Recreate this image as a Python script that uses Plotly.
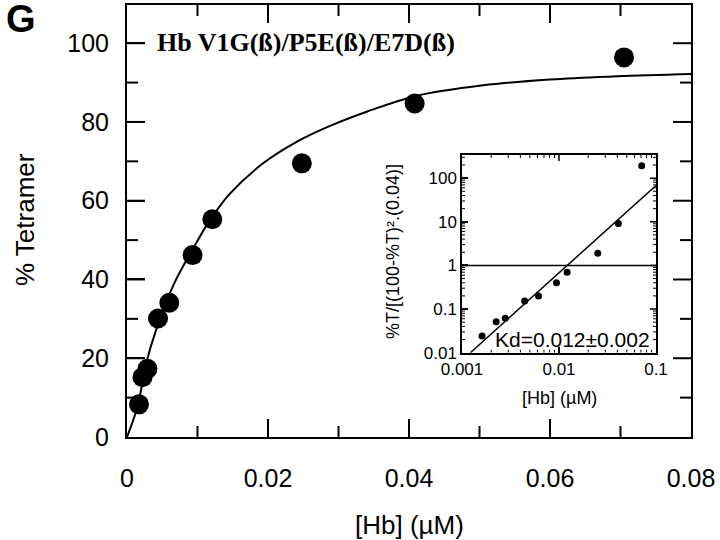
import math
import plotly.graph_objects as go

# ---- main panel data ----
hb_conc = [0.0017, 0.0022, 0.0029, 0.0044, 0.0060, 0.0093, 0.0121, 0.0248, 0.0408, 0.0705]
pct_tetramer = [8.3, 15.2, 17.3, 30.1, 34.1, 46.2, 55.3, 69.5, 84.7, 96.4]

# fitted curve, read at points along the drawn line
fit_x = [0, 0.0015, 0.0027, 0.0042, 0.0067, 0.0093, 0.0115, 0.0145, 0.0193, 0.0240,
         0.0288, 0.0340, 0.0410, 0.0505, 0.0600, 0.0695, 0.0800]
fit_y = [0, 7.8, 18.6, 27.6, 39.0, 47.6, 54.3, 61.6, 69.5, 74.9,
         79.0, 82.6, 86.6, 89.3, 90.8, 91.6, 92.2]

# ---- inset data (log-log) ----
inset_x = [0.00161, 0.00225, 0.00279, 0.00442, 0.00615, 0.00942, 0.01213, 0.0251, 0.0409, 0.0712]
inset_y = [0.024, 0.0514, 0.0613, 0.153, 0.20, 0.403, 0.695, 1.9, 9.1, 191]
inset_fit_x = [0.00122, 0.1]
inset_fit_y = [0.01, 68]
ref_x = [0.001, 0.1]
ref_y = [1, 1]

x_ticks = [0, 0.02, 0.04, 0.06, 0.08]
x_ticktext = ["0", "0.02", "0.04", "0.06", "0.08"]
x_minor = [0.01, 0.03, 0.05, 0.07]
y_ticks = [0, 20, 40, 60, 80, 100]
y_minor = [10, 30, 50, 70, 90]
inset_xticks = [0.001, 0.01, 0.1]
inset_xtext = ["0.001", "0.01", "0.1"]
inset_yticks = [0.01, 0.1, 1, 10, 100]
inset_ytext = ["0.01", "0.1", "1", "10", "100"]
inset_xminor = [m * 10 ** e for e in (-3, -2) for m in range(2, 10)]
inset_yminor = [m * 10 ** e for e in (-2, -1, 0, 1, 2) for m in range(2, 10) if m * 10 ** e < 330]

L, R, T, B = 127, 29, 5, 103
W, H = 720, 540
PW, PH = W - L - R, H - T - B
X_RANGE = [0, 0.08]
Y_RANGE = [0, 109.7]
IN_X0, IN_X1, IN_Y0, IN_Y1 = 462, 656, 352.7, 155
IN_XR = [-3, -1]
IN_YR = [-2, 2.53]
in_w, in_h = IN_X1 - IN_X0, IN_Y0 - IN_Y1


def px(xp):
    return (xp - L) / PW


def py(yp):
    return (H - B - yp) / PH


SANS = "Liberation Sans, Arial, Helvetica, sans-serif"

fig = go.Figure()
fig.add_trace(go.Scatter(x=fit_x, y=fit_y, mode="lines", line=dict(color="black", width=2, shape="spline", smoothing=1.0),
                         xaxis="x", yaxis="y", showlegend=False, hoverinfo="skip"))
fig.add_trace(go.Scatter(x=hb_conc, y=pct_tetramer, mode="markers", marker=dict(color="black", size=20),
                         xaxis="x", yaxis="y", showlegend=False))
fig.add_trace(go.Scatter(x=ref_x, y=ref_y, mode="lines", line=dict(color="black", width=1.5),
                         xaxis="x2", yaxis="y2", showlegend=False))
fig.add_trace(go.Scatter(x=inset_fit_x, y=inset_fit_y, mode="lines", line=dict(color="black", width=1.5),
                         xaxis="x2", yaxis="y2", showlegend=False))
fig.add_trace(go.Scatter(x=inset_x, y=inset_y, mode="markers", marker=dict(color="black", size=7),
                         xaxis="x2", yaxis="y2", showlegend=False))


# ---- tick marks on all four sides, drawn as line segments from the tick arrays ----
def tick_trace(xa, ya, xvals, yvals, xr, yr, len_px_x, len_px_y, w_px, h_px, log=False, width=2):
    tx, ty = [], []
    conv = (lambda v: math.log10(v)) if log else (lambda v: v)
    inv = (lambda v: 10 ** v) if log else (lambda v: v)
    dy = (yr[1] - yr[0]) * len_px_x / h_px   # vertical tick length (for x ticks), data units
    dx = (xr[1] - xr[0]) * len_px_y / w_px   # horizontal tick length (for y ticks)
    for v in xvals:
        tx += [v, v, None, v, v, None]
        ty += [inv(yr[0]), inv(yr[0] + dy), None, inv(yr[1]), inv(yr[1] - dy), None]
    for v in yvals:
        ty += [v, v, None, v, v, None]
        tx += [inv(xr[0]), inv(xr[0] + dx), None, inv(xr[1]), inv(xr[1] - dx), None]
    return go.Scatter(x=tx, y=ty, mode="lines", line=dict(color="black", width=width),
                      xaxis=xa, yaxis=ya, showlegend=False, hoverinfo="skip", connectgaps=False)


fig.add_trace(tick_trace("x", "y", x_ticks[1:-1], y_ticks[1:], X_RANGE, Y_RANGE, 18, 18, PW, PH))
fig.add_trace(tick_trace("x", "y", x_minor, y_minor, X_RANGE, Y_RANGE, 11, 11, PW, PH))
fig.add_trace(tick_trace("x2", "y2", inset_xticks[1:-1], inset_yticks[1:], IN_XR, IN_YR, 6, 6, in_w, in_h,
                         log=True, width=1.5))
fig.add_trace(tick_trace("x2", "y2", inset_xminor, inset_yminor, IN_XR, IN_YR, 3, 3, in_w, in_h,
                         log=True, width=1))

fig.update_layout(
    template="none",
    width=W, height=H,
    margin=dict(l=L, r=R, t=T, b=B),
    paper_bgcolor="white", plot_bgcolor="rgba(0,0,0,0)",
    font=dict(family=SANS, color="black"),
    xaxis=dict(domain=[0, 1], range=X_RANGE, tickmode="array", tickvals=x_ticks, ticktext=x_ticktext,
               ticks="inside", ticklen=18, tickwidth=2, tickcolor="#000000",
               tickfont=dict(size=25), ticklabelstandoff=18,
               showline=True, linecolor="black", linewidth=2, mirror=True, showgrid=False, zeroline=False),
    yaxis=dict(domain=[0, 1], range=Y_RANGE, tickmode="array", tickvals=y_ticks,
               ticks="inside", ticklen=18, tickwidth=2, tickcolor="#000000",
               tickfont=dict(size=25), ticklabelstandoff=11,
               showline=True, linecolor="black", linewidth=2, mirror=True, showgrid=False, zeroline=False),
    xaxis2=dict(domain=[px(IN_X0), px(IN_X1)], anchor="y2", type="log", range=IN_XR,
                tickmode="array", tickvals=inset_xticks, ticktext=inset_xtext,
                ticks="inside", ticklen=6, tickwidth=1.5, tickcolor="#000000", tickfont=dict(size=17),
                showline=True, linecolor="black", linewidth=1.5, mirror=True, showgrid=False, zeroline=False),
    yaxis2=dict(domain=[py(IN_Y0), py(IN_Y1)], anchor="x2", type="log", range=IN_YR,
                tickmode="array", tickvals=inset_yticks, ticktext=inset_ytext,
                ticks="inside", ticklen=6, tickwidth=1.5, tickcolor="#000000", tickfont=dict(size=17),
                showline=True, linecolor="black", linewidth=1.5, mirror=True, showgrid=False, zeroline=False),
)

ann = [
    dict(text="<b>G</b>", x=px(21), y=py(19), font=dict(size=38, family=SANS), xanchor="center", yanchor="middle"),
    dict(text="<b>Hb V1G(ß)/P5E(ß)/E7D(ß)</b>", x=px(155), y=py(43),
         font=dict(size=26, family="Liberation Serif, Times New Roman, serif"), xanchor="left", yanchor="middle"),
    dict(text="% Tetramer", x=px(25), y=py(220), textangle=-90, font=dict(size=26, family=SANS),
         xanchor="center", yanchor="middle"),
    dict(text="[Hb] (µM)", x=px(409), y=py(525), font=dict(size=26, family=SANS),
         xanchor="center", yanchor="middle"),
    dict(text="%T/[(100-%T)².(0.04)]", x=px(393), y=py(252), textangle=-90, font=dict(size=18, family=SANS),
         xanchor="center", yanchor="middle"),
    dict(text="[Hb] (µM)", x=px(559), y=py(398), font=dict(size=18, family=SANS),
         xanchor="center", yanchor="middle"),
    dict(text="Kd=0.012±0.002", x=px(572), y=py(339), font=dict(size=21, family=SANS),
         xanchor="center", yanchor="middle"),
]
for a in ann:
    a.update(xref="paper", yref="paper", showarrow=False)
fig.update_layout(annotations=ann)

fig.write_html("out.html", config={"displayModeBar": False},
               post_script="document.body.style.margin='0px';")
